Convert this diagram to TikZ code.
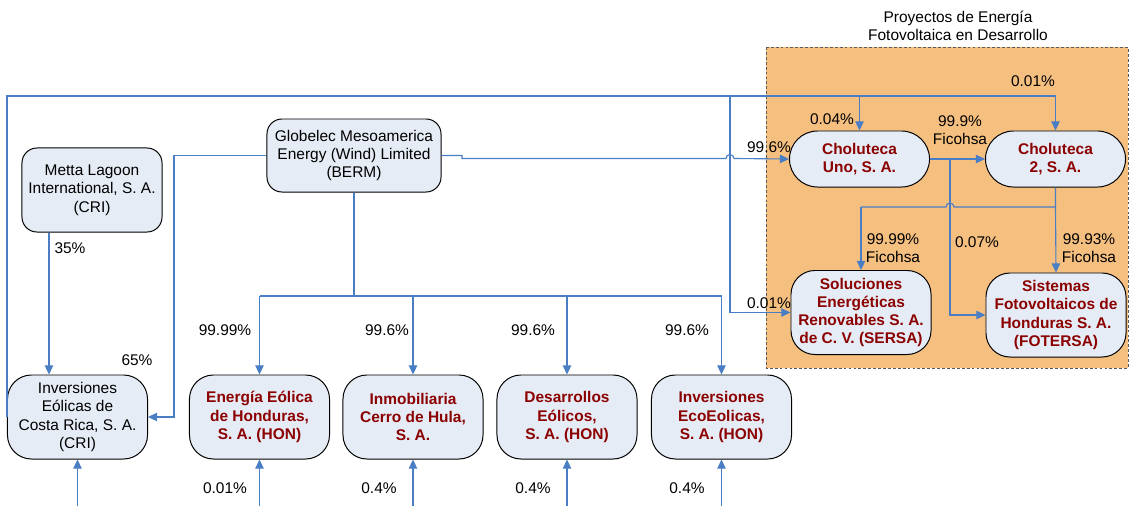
\documentclass[tikz,border=0pt]{standalone}
\usepackage{fontspec}
\setmainfont{Liberation Sans}
\usetikzlibrary{arrows.meta}
\usetikzlibrary{calc}
\definecolor{linkblue}{HTML}{4A7EC4}
\definecolor{boxfill}{HTML}{E6ECF6}
\definecolor{projorange}{HTML}{F5BF80}
\definecolor{firmred}{HTML}{8B0000}

\begin{document}
\begin{tikzpicture}[x=0.025cm, y=-0.025cm,
	every node/.style={font=\fontsize{11}{13}\selectfont, align=center},
	firm/.style={draw=black, line width=0.7pt, fill=boxfill, inner sep=2pt},
	holding/.style={firm, rounded corners=0.375cm, minimum width=4.35cm, minimum height=1.825cm},
	company/.style={firm, rounded corners=0.6cm, minimum width=3.5cm, minimum height=2.1cm},
	project/.style={company, font=\fontsize{11}{13}\selectfont\bfseries, text=firmred},
	pill/.style={project, rounded corners=0.7cm, minimum height=1.4cm},
	line/.style={linkblue, line width=0.8pt},
	link/.style={line, -{Triangle[length=6.5pt, width=6pt]}},
	pct/.style={inner sep=0pt}]
	\useasboundingbox (0, 0) rectangle (1130, 506);
	\draw[gray!70!black, dash pattern=on 2pt off 1.5pt, fill=projorange] (766, 47) rectangle (1128, 368);
	\node[pct] (title) at (958, 26) {Proyectos de Energía\\Fotovoltaica en Desarrollo};

	\node[holding, minimum width=3.5cm, minimum height=2.1cm] (metta) at (92, 190) {Metta Lagoon\\International, S. A.\\(CRI)};
	\node[holding] (glob) at (354, 155.5) {Globelec Mesoamerica\\Energy (Wind) Limited\\(BERM)};
	\node[company] (cri) at (77.5, 417) {Inversiones\\Eólicas de\\Costa Rica, S. A.\\(CRI)};
	\node[project] (energia) at (259.5, 417) {Energía Eólica\\de Honduras,\\S. A. (HON)};
	\node[project] (inmo) at (413, 417) {Inmobiliaria\\Cerro de Hula,\\S. A.};
	\node[project] (desa) at (567, 417) {Desarrollos\\Eólicos,\\S. A. (HON)};
	\node[project] (eco) at (721.5, 417) {Inversiones\\EcoEolicas,\\S. A. (HON)};
	\node[pill] (uno) at (859.5, 159) {Choluteca\\Uno, S. A.};
	\node[pill] (ch2) at (1055.5, 159) {Choluteca\\2, S. A.};
	\node[project] (sersa) at (861, 312.5) {Soluciones\\Energéticas\\Renovables S. A.\\de C. V. (SERSA)};
	\node[project] (sis) at (1056, 315) {Sistemas\\Fotovoltaicos de\\Honduras S. A.\\(FOTERSA)};

	\coordinate (top) at (0, 96);
	\coordinate (drop) at (730, 96);
	\coordinate (bus) at (354, 296);
	\coordinate (split) at (950, 159);
	\coordinate (mid) at (0, 207);
	\coordinate (edge) at (0, 506);

	\draw[link] ([xshift=-1.075cm]metta.south) -- ([xshift=-1.075cm]metta.south |- cri.north);
	\draw[link] (glob.west) -- (174, 155.5) |- (cri.east);
	\draw[line] (glob.south) -- (bus);
	\draw[line] (energia.north |- bus) -- (eco.north |- bus);
	\foreach \n in {energia, inmo, desa, eco}
		\draw[link] (\n.north |- bus) -- (\n.north);
	\foreach \n in {cri, energia, inmo, desa, eco}
		\draw[link] (\n.south |- edge) -- (\n.south);
	\draw[link] (glob.east) -- (462, 155.5) -- (462, 158.5) -- (726, 158.5)
		arc[start angle=180, end angle=0, radius=0.1cm] -- (uno.west);
	\draw[link] (cri.west) -- (cri.west |- top) -- (top -| ch2.north) -- (ch2.north);
	\draw[link] (top -| uno.north) -- (uno.north);
	\draw[link] (drop) |- (sersa.west);
	\draw[link] (uno.east) -- (ch2.west);
	\draw[link] (split) |- (sis.west);
	\draw[line] (ch2.south) -- (ch2.south |- mid) -- (954, 207)
		arc[start angle=0, end angle=180, radius=0.1cm] -- (sersa.north |- mid);
	\draw[link] (sersa.north |- mid) -- (sersa.north);
	\draw[link] (ch2.south |- mid) -- (sis.north);

	\node[pct] (p1) at (70, 248) {35\%};
	\node[pct] (p2) at (137, 360) {65\%};
	\node[pct] (p3) at (225, 330) {99.99\%};
	\node[pct] (p4) at (387, 330) {99.6\%};
	\node[pct] (p5) at (533, 330) {99.6\%};
	\node[pct] (p6) at (687, 330) {99.6\%};
	\node[pct] (p7) at (225, 488) {0.01\%};
	\node[pct] (p8) at (379, 488) {0.4\%};
	\node[pct] (p9) at (533, 488) {0.4\%};
	\node[pct] (p10) at (687, 488) {0.4\%};
	\node[pct] (p11) at (1033, 81) {0.01\%};
	\node[pct] (p12) at (832, 119) {0.04\%};
	\node[pct] (p13) at (960, 130) {99.9\%\\Ficohsa};
	\node[pct] (p14) at (769, 147) {99.6\%};
	\node[pct] (p15) at (893, 248) {99.99\%\\Ficohsa};
	\node[pct] (p16) at (977, 242) {0.07\%};
	\node[pct] (p17) at (1089, 248) {99.93\%\\Ficohsa};
	\node[pct] (p18) at (769, 303) {0.01\%};
\end{tikzpicture}
\end{document}
